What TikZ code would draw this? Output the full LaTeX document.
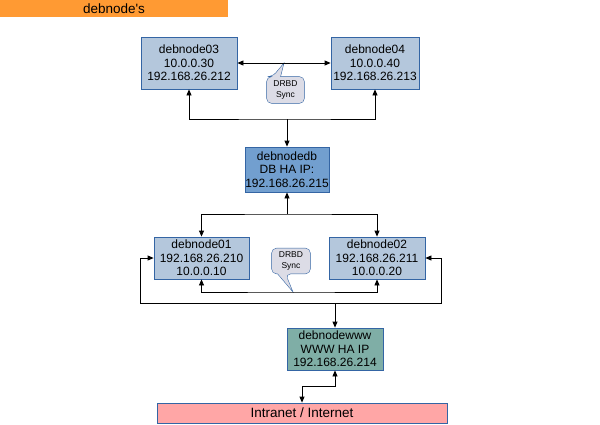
\documentclass[tikz,border=0pt]{standalone}
\usepackage{fontspec}
\setmainfont{Liberation Sans}
\usetikzlibrary{positioning,arrows.meta,backgrounds}
\definecolor{hostblue}{HTML}{B4C7DC}
\definecolor{dbblue}{HTML}{729FCF}
\definecolor{wwwteal}{HTML}{7FAEA6}
\definecolor{edgeblue}{HTML}{3465A4}
\definecolor{titleorange}{HTML}{FF9A33}
\definecolor{netpink}{HTML}{FFA6A6}
\definecolor{notegrey}{HTML}{DCDCE6}

\begin{document}
\begin{tikzpicture}[x=1pt,y=-1pt,>={Triangle[length=6pt,width=5pt]},line width=0.8pt,
  hostbox/.style={draw=edgeblue,fill=hostblue,align=center,inner sep=0pt,font=\fontsize{12}{13.3}\selectfont},
  synctext/.style={align=center,inner sep=0pt,minimum width=37pt,minimum height=26pt,font=\fontsize{8.5}{10.5}\selectfont},
  syncshape/.style={draw=edgeblue,fill=notegrey,rounded corners=5pt}]
\useasboundingbox (0,0) rectangle (600,424);
% heading
\node (title) at (114,8.5) [fill=titleorange,minimum width=228pt,minimum height=17pt,inner sep=0pt,font=\fontsize{13.5}{14}\selectfont] {debnode\textquotesingle s};
% database pair
\node (n03) at (189,63) [hostbox,minimum width=96pt,minimum height=52pt] {debnode03\\10.0.0.30\\192.168.26.212};
\node (n04) at (375,63) [hostbox,minimum width=88pt,minimum height=52pt] {debnode04\\10.0.0.40\\192.168.26.213};
\node (db) at (287,169.5) [hostbox,fill=dbblue,minimum width=84pt,minimum height=45pt] {debnodedb\\DB HA IP:\\192.168.26.215};
% web pair
\node (n01) at (201.5,258) [hostbox,minimum width=95pt,minimum height=42pt] {debnode01\\192.168.26.210\\10.0.0.10};
\node (n02) at (377,258) [hostbox,minimum width=96pt,minimum height=42pt] {debnode02\\192.168.26.211\\10.0.0.20};
\node (www) at (335,349) [hostbox,fill=wwwteal,minimum width=96pt,minimum height=42pt] {debnodewww\\WWW HA IP\\192.168.26.214};
\node (net) at (302,413) [hostbox,fill=netpink,minimum width=290pt,minimum height=20pt,font=\fontsize{13.5}{14}\selectfont] {Intranet / Internet};

\coordinate (j1) at (287,119);
\coordinate (j2) at (287,214);
\coordinate (s2) at (293,292);
\coordinate (lw) at (140,303);
\coordinate (rw) at (441,303);
\coordinate (j4) at (335,303);
\coordinate (j5) at (302,386);
\coordinate (s1) at (284,63);

\draw[<->] (n03) -- (n04);
\draw[<->] (n03) |- (j1) -| (n04);
\draw[->] (j1) -- (db);
\draw[<->] (n01) |- (j2) -| (n02);
\draw[->] (j2) -- (db);
\draw[<->] (n01) |- (s2) -| (n02);
\draw[<->] (n01.west) -| (lw) -- (rw) |- (n02.east);
\draw[->] (j4) -- (www);
\draw[<->] (www) |- (j5) -- (net);

% sync notes
\node (sync1) at (285.5,90) [synctext] {DRBD\\Sync};
\node (sync2) at (291,261) [synctext,minimum width=38pt,minimum height=25pt] {DRBD\\Sync};
\begin{scope}[on background layer]
\draw[syncshape] (sync1.south west) -- (sync1.north west) -- ([xshift=6pt]sync1.north west)
  [sharp corners] -- (s1) -- ([xshift=14pt]sync1.north west) [rounded corners=5pt] -- (sync1.north east) -- (sync1.south east) -- cycle;
\draw[syncshape] (sync2.north west) -- (sync2.north east) -- (sync2.south east) -- ([xshift=14pt]sync2.south west)
  [sharp corners] -- (s2) -- ([xshift=6pt]sync2.south west) [rounded corners=5pt] -- (sync2.south west) -- cycle;
\end{scope}
\end{tikzpicture}
\end{document}
